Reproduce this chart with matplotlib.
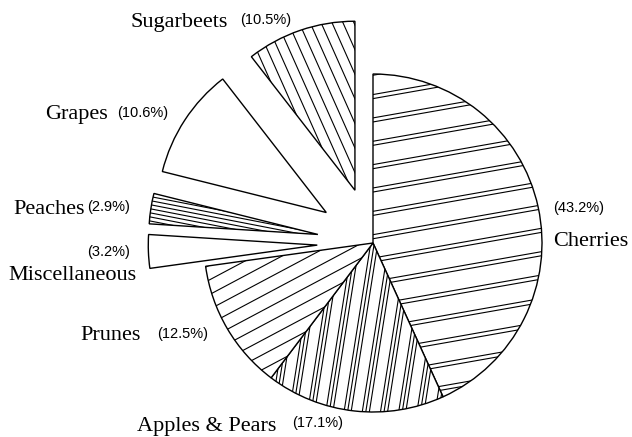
import numpy as np
import matplotlib
matplotlib.use("Agg")
import matplotlib.pyplot as plt
from matplotlib.collections import LineCollection

# data
crops = ["Cherries", "Apples & Pears", "Prunes", "Miscellaneous",
         "Peaches", "Grapes", "Sugarbeets"]
shares = [43.2, 17.1, 12.5, 3.2, 2.9, 10.6, 10.5]
explode = [0, 0, 0, 0.33, 0.33, 0.33, 0.33]

# hatch per wedge: (angle deg, spacing px, offsets inside one period) ; None = empty
hatches = [
    (10, 23, [0, 4]),
    (81, 18, [0, 3.5, 7]),
    (28, 13, [0]),
    None,
    (-11, 4, [0]),
    None,
    (-66, 10, [0]),
]

W, H = 632, 437
CX, CY, R = 373, 437 - 243, 169

fig = plt.figure(figsize=(W / 100, H / 100), dpi=100)
ax = fig.add_axes([0, 0, 1, 1])

# pie explode is in data units, so scale by radius
wedges, _ = ax.pie(shares, explode=[e * R for e in explode], startangle=90,
                   counterclock=False, center=(CX, CY), radius=R, frame=True,
                   wedgeprops=dict(facecolor="white", edgecolor="black", linewidth=1.0))


def add_hatch(wedge, angle, spacing, offsets):
    cx, cy = wedge.center
    r = wedge.r
    t = np.deg2rad(angle)
    d = np.array([np.cos(t), np.sin(t)])
    n = np.array([-np.sin(t), np.cos(t)])
    segs = []
    k = np.arange(-r * 1.2, r * 1.2, spacing)
    for base in k:
        for off in offsets:
            p = np.array([cx, cy]) + n * (base + off)
            segs.append([p - d * r * 1.3, p + d * r * 1.3])
    lc = LineCollection(segs, colors="black", linewidths=0.8)
    ax.add_collection(lc)
    lc.set_clip_path(wedge)


for w, h in zip(wedges, hatches):
    if h is not None:
        add_hatch(w, *h)

ax.set_xlim(0, W)
ax.set_ylim(0, H)
ax.set_aspect("equal")
ax.axis("off")

serif = dict(family="Liberation Serif", fontsize=16)
sans = dict(family="Liberation Sans", fontsize=10.5)


def lab(x, y, s, style, ha="left"):
    ax.text(x, H - y, s, ha=ha, va="center", **style)


lab(130, 22, "Sugarbeets", serif)
lab(240, 20, "(10.5%)", sans)
lab(45, 115, "Grapes", serif)
lab(117, 113, "(10.6%)", sans)
lab(13, 209, "Peaches", serif)
lab(130, 207, "(2.9%)", sans, ha="right")
lab(130, 252, "(3.2%)", sans, ha="right")
lab(8, 276, "Miscellaneous", serif)
lab(80, 336, "Prunes", serif)
lab(157, 334, "(12.5%)", sans)
lab(137, 427, "Apples & Pears", serif)
lab(292, 423, "(17.1%)", sans)
lab(553, 208, "(43.2%)", sans)
lab(553, 241, "Cherries", serif)

fig.savefig("out.png", dpi=100, facecolor="white")
